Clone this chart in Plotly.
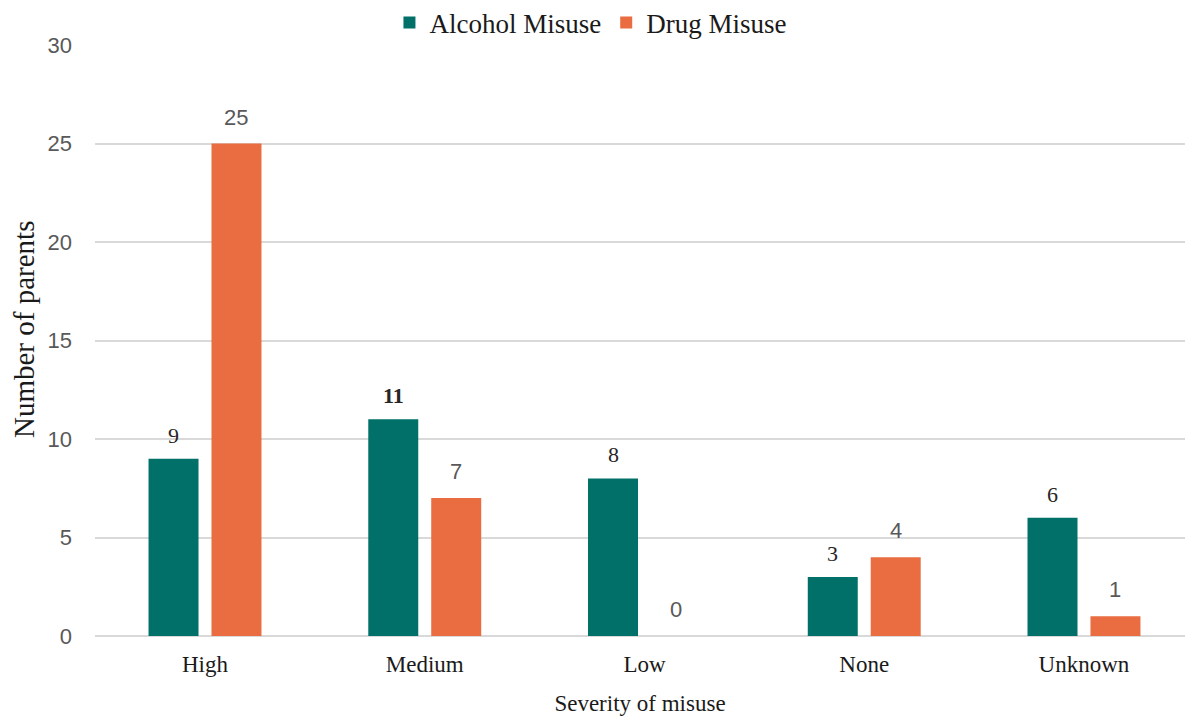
import plotly.graph_objects as go

categories = ["High", "Medium", "Low", "None", "Unknown"]
alcohol = [9, 11, 8, 3, 6]
drug = [25, 7, 0, 4, 1]
series_names = ["Alcohol Misuse", "Drug Misuse"]
y_ticks = [0, 5, 10, 15, 20, 25, 30]

TEAL = "#007068"
ORANGE = "#E96D41"
SERIF = "Liberation Serif, Times New Roman, serif"
SANS = "Liberation Sans, Arial, sans-serif"

fig = go.Figure()
fig.add_trace(go.Bar(name=series_names[0], x=categories, y=alcohol,
                     marker=dict(color=TEAL, line=dict(width=0))))
fig.add_trace(go.Bar(name=series_names[1], x=categories, y=drug,
                     marker=dict(color=ORANGE, line=dict(width=0))))

off = 0.1432
annotations = []
for i, v in enumerate(alcohol):
    annotations.append(dict(x=i - off, y=v, xref="x", yref="y", text=str(v),
                            showarrow=False, yanchor="middle", yshift=23.5,
                            font=dict(family=SERIF, size=22, color="#262626",
                                      weight="bold" if v == 11 else "normal")))
for i, v in enumerate(drug):
    annotations.append(dict(x=i + off, y=v, xref="x", yref="y", text=str(v),
                            showarrow=False, yanchor="middle", yshift=26.5,
                            font=dict(family=SANS, size=22, color="#595959")))

# y-axis title placed as rotated annotation
annotations.append(dict(x=(24 - 95) / 1090, xref="paper", y=(636 - 330) / 591, yref="paper",
                        text="Number of parents",
                        showarrow=False, textangle=-90, xanchor="center", yanchor="middle",
                        font=dict(family=SERIF, size=29, color="#1a1a1a")))

fig.update_layout(
    width=1185, height=718,
    margin=dict(l=95, r=0, t=45, b=82, autoexpand=False),
    paper_bgcolor="white", plot_bgcolor="white",
    barmode="group", bargap=0.427, bargroupgap=0.206,
    annotations=annotations,
    legend=dict(orientation="h", x=0.455, xanchor="center",
                y=1 + (45 - 23) / 591, yanchor="middle",
                font=dict(family=SERIF, size=27, color="#1a1a1a"),
                itemwidth=30, tracegroupgap=0),
    xaxis=dict(range=[-0.5006, 4.4597], showgrid=False, showline=False, zeroline=False,
               automargin=False,
               tickfont=dict(family=SERIF, size=23, color="#1a1a1a"),
               ticks="", ticklabelstandoff=12,
               title=dict(text="Severity of misuse", standoff=18,
                          font=dict(family=SERIF, size=23, color="#1a1a1a"))),
    yaxis=dict(range=[0, 30], tickvals=y_ticks, showgrid=True, gridcolor="#D9D9D9",
               gridwidth=1.5, zeroline=True, zerolinecolor="#D9D9D9", zerolinewidth=1.5,
               showline=False, ticks="", ticklabelstandoff=22, automargin=False,
               tickfont=dict(family=SANS, size=22, color="#595959")),
)

fig.write_html("out.html")
